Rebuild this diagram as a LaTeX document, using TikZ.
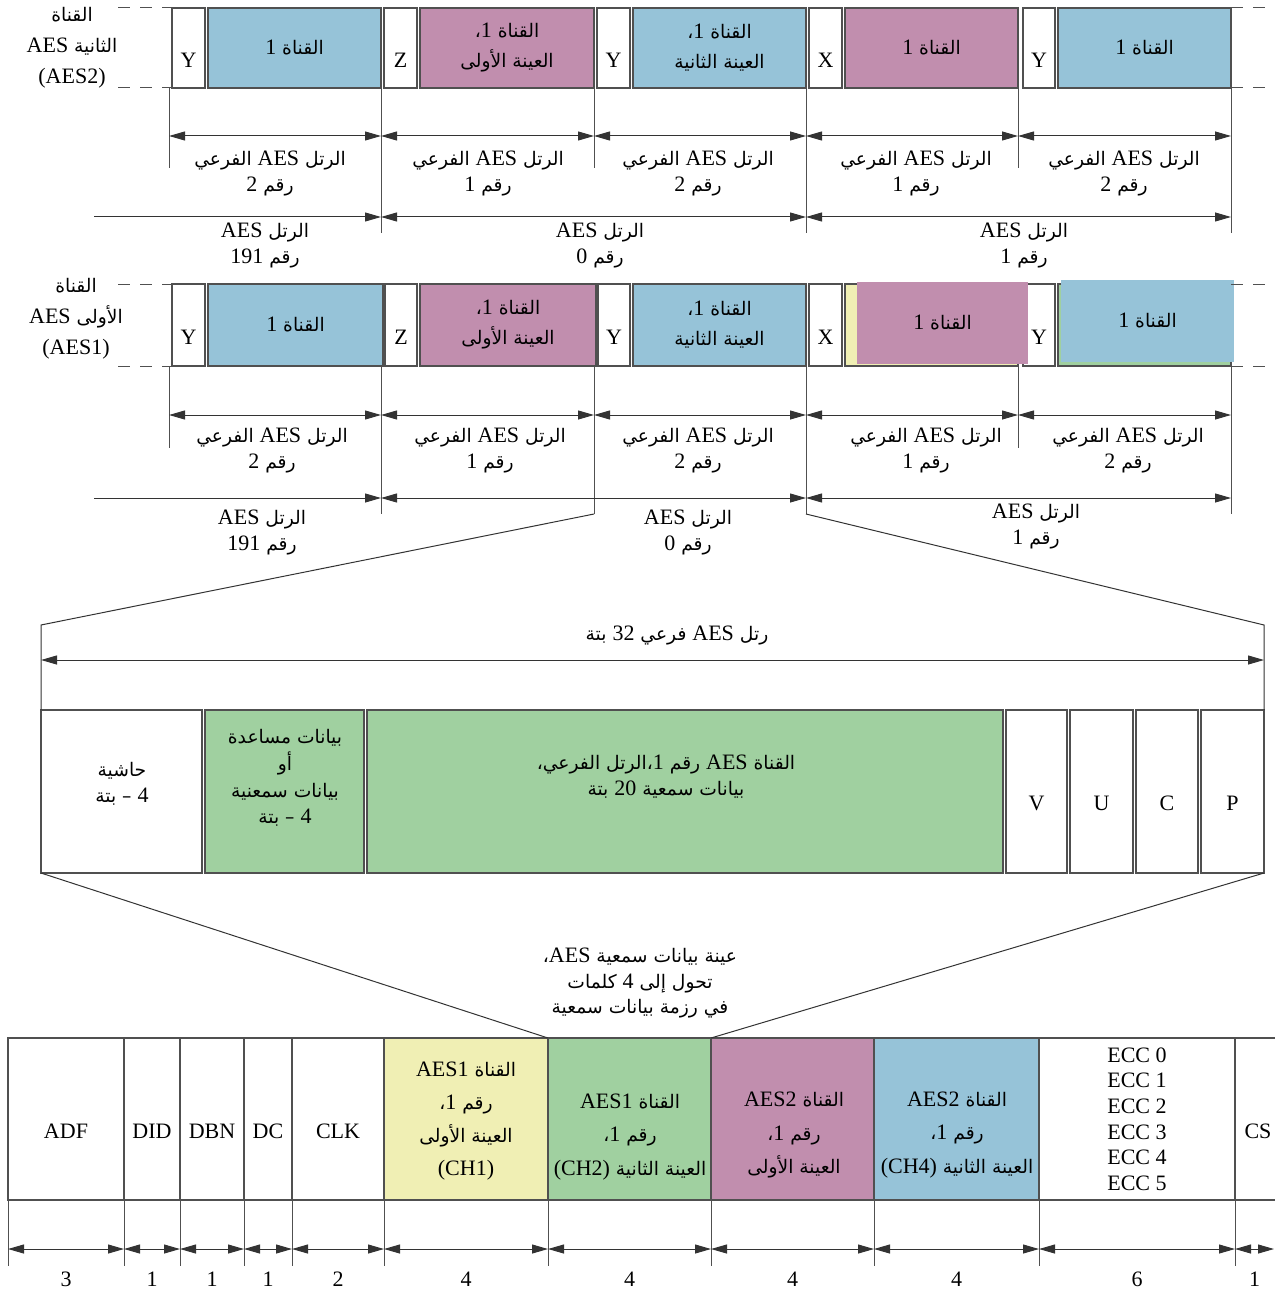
\documentclass[tikz,border=0pt]{standalone}
\usepackage{fontspec}
\setmainfont{Liberation Serif}
\newfontfamily\arabicfont[Script=Arabic,Scale=0.85]{DejaVu Sans}
\TeXXeTstate=1
\usetikzlibrary{arrows.meta,calc}
\definecolor{chBlue}{RGB}{150,195,216}
\definecolor{chPurple}{RGB}{193,142,174}
\definecolor{chGreen}{RGB}{160,208,160}
\definecolor{chYellow}{RGB}{240,239,180}
\definecolor{lineGrey}{RGB}{80,80,80}
\newcommand\ar[1]{{\arabicfont\beginR#1\endR}}
\newcommand\lat[1]{{\rmfamily#1}}
\newcommand\low[1]{\raisebox{-6pt}[\height][\depth]{#1}}
% cell: name, x1, y1, x2, y2, options, text (pixel units)
\newcommand\cell[7]{\node[cell,#6,minimum width={(#4-#2)*0.5pt},minimum height={(#5-#3)*0.5pt}] (#1) at ({(#2+#4)/2},{(#3+#5)/2}) {#7};}

\begin{document}
\begin{tikzpicture}[x=0.5pt,y=-0.5pt,font=\fontsize{11}{13}\selectfont,
  >={Triangle[length=8pt,width=4.5pt]},
  cell/.style={draw=lineGrey,line width=0.6pt,inner sep=0pt,outer sep=0pt,align=center},
  lbl/.style={inner sep=0pt,align=center},
  tick/.style={draw=lineGrey,line width=0.5pt},
  edge/.style={draw=black!80,line width=0.5pt},
  dim/.style={draw=black!80,line width=0.5pt,<->},
  dimR/.style={draw=black!80,line width=0.5pt,->},
  dashline/.style={draw=lineGrey,line width=0.5pt,dash pattern=on 6pt off 5pt}]
\useasboundingbox (0,0) rectangle (1274,1289);

% AES2 stream
\cell{a2y1}{172}{8}{205}{88}{}{\low{Y}}
\cell{a2c1}{208}{8}{381}{88}{fill=chBlue}{\ar{القناة \lat{1}}}
\cell{a2z}{384}{8}{417}{88}{}{\low{Z}}
\cell{a2c2}{420}{8}{594}{88}{fill=chPurple}{\ar{القناة \lat{1}،}\\[2pt]\ar{العينة الأولى}}
\cell{a2y2}{597}{8}{630}{88}{}{\low{Y}}
\cell{a2c3}{633}{8}{806}{88}{fill=chBlue}{\ar{القناة \lat{1}،}\\[2pt]\ar{العينة الثانية}}
\cell{a2x}{809}{8}{842}{88}{}{\low{X}}
\cell{a2c4}{845}{8}{1018}{88}{fill=chPurple}{\ar{القناة \lat{1}}}
\cell{a2y3}{1023}{8}{1055}{88}{}{\low{Y}}
\cell{a2c5}{1058}{8}{1231}{88}{fill=chBlue}{\ar{القناة \lat{1}}}
\node[lbl,font=\fontsize{11}{15.5}\selectfont] (a2name) at (72,48) {\ar{القناة}\\\ar{الثانية \lat{AES}}\\(AES2)};
\coordinate (dl1) at (118,8);
\coordinate (dl2) at (118,88);
\coordinate (dr1) at (1274,8);
\coordinate (dr2) at (1274,88);
\draw[dashline] (dl1) -- (a2y1.north west);
\draw[dashline] (dl2) -- (a2y1.south west);
\draw[dashline] (a2c5.north east) -- (dr1);
\draw[dashline] (a2c5.south east) -- (dr2);

\foreach \n/\x/\yb in {0/169/168,1/381/233,2/594/168,3/806/233,4/1018/168,5/1231/233} {
  \coordinate (ta\n) at (\x,88);
  \coordinate (tb\n) at (\x,\yb);
  \coordinate (sa\n) at (\x,136);
  \coordinate (fa\n) at (\x,217);
  \draw[tick] (ta\n) -- (tb\n);
}
\coordinate (fs) at (94,217);
\foreach \a/\b in {0/1,1/2,2/3,3/4,4/5} \draw[dim] (sa\a) -- (sa\b);
\draw[dimR] (fs) -- (fa1);
\draw[dim] (fa1) -- (fa3);
\draw[dim] (fa3) -- (fa5);
\foreach \n/\x/\k in {1/270/2,2/488/1,3/698/2,4/916/1,5/1124/2}
  \node[lbl] (sla\n) at (\x,173) {\ar{الرتل \lat{AES} الفرعي}\\\ar{رقم \lat{\k}}};
\foreach \n/\x/\k in {1/265/191,2/600/0,3/1024/1}
  \node[lbl] (fla\n) at (\x,245) {\ar{الرتل \lat{AES}}\\\ar{رقم \lat{\k}}};

% AES1 stream
\cell{a1y1}{172}{284}{205}{366}{}{\low{Y}}
\cell{a1c1}{208}{284}{383}{366}{fill=chBlue}{\ar{القناة \lat{1}}}
\cell{a1z}{385}{284}{417}{366}{}{\low{Z}}
\cell{a1c2}{420}{284}{596}{366}{fill=chPurple}{\ar{القناة \lat{1}،}\\[2pt]\ar{العينة الأولى}}
\cell{a1y2}{598}{284}{630}{366}{}{\low{Y}}
\cell{a1c3}{633}{284}{806}{366}{fill=chBlue}{\ar{القناة \lat{1}،}\\[2pt]\ar{العينة الثانية}}
\cell{a1x}{809}{284}{842}{366}{}{\low{X}}
\cell{a1c4}{845}{284}{1018}{366}{fill=chYellow}{}
\cell{a1y3}{1023}{284}{1055}{366}{}{\low{Y}}
\cell{a1c5}{1058}{284}{1231}{366}{fill=chGreen}{}
\cell{a1o4}{857}{282}{1028}{364}{fill=chPurple,draw=none}{\ar{القناة \lat{1}}}
\cell{a1o5}{1061}{280}{1234}{362}{fill=chBlue,draw=none}{\ar{القناة \lat{1}}}
\node[lbl,font=\fontsize{11}{15.5}\selectfont] (a1name) at (76,319) {\ar{القناة}\\\ar{الأولى \lat{AES}}\\(AES1)};
\coordinate (dl3) at (118,284);
\coordinate (dl4) at (118,366);
\coordinate (dr3) at (1274,284);
\coordinate (dr4) at (1274,366);
\draw[dashline] (dl3) -- (a1y1.north west);
\draw[dashline] (dl4) -- (a1y1.south west);
\draw[dashline] (a1c5.north east) -- (dr3);
\draw[dashline] (a1c5.south east) -- (dr4);

\foreach \n/\x/\yb in {0/169/448,1/381/514,2/594/514,3/806/514,4/1018/448,5/1231/514} {
  \coordinate (tc\n) at (\x,366);
  \coordinate (td\n) at (\x,\yb);
  \coordinate (sc\n) at (\x,415);
  \coordinate (fc\n) at (\x,498);
  \draw[tick] (tc\n) -- (td\n);
}
\coordinate (gs) at (94,498);
\foreach \a/\b in {0/1,1/2,2/3,3/4,4/5} \draw[dim] (sc\a) -- (sc\b);
\draw[dimR] (gs) -- (fc1);
\draw[dim] (fc1) -- (fc3);
\draw[dim] (fc3) -- (fc5);
\foreach \n/\x/\k in {1/272/2,2/490/1,3/698/2,4/926/1,5/1128/2}
  \node[lbl] (slc\n) at (\x,450) {\ar{الرتل \lat{AES} الفرعي}\\\ar{رقم \lat{\k}}};
\node[lbl] (flc1) at (262,532) {\ar{الرتل \lat{AES}}\\\ar{رقم \lat{191}}};
\node[lbl] (flc2) at (688,532) {\ar{الرتل \lat{AES}}\\\ar{رقم \lat{0}}};
\node[lbl] (flc3) at (1036,526) {\ar{الرتل \lat{AES}}\\\ar{رقم \lat{1}}};

% AES subframe, 32 bits
\cell{pad}{41}{710}{202}{873}{}{}
\cell{aux}{205}{710}{364}{873}{fill=chGreen}{}
\cell{aud}{367}{710}{1003}{873}{fill=chGreen}{}
\cell{bitV}{1006}{710}{1067}{873}{}{\low{V}}
\cell{bitU}{1070}{710}{1133}{873}{}{\low{U}}
\cell{bitC}{1136}{710}{1198}{873}{}{\low{C}}
\cell{bitP}{1201}{710}{1264}{873}{}{\low{P}}
\node[lbl] (padt) at (122,784) {\ar{حاشية}\\\ar{\lat{4} – بتة}};
\node[lbl,font=\fontsize{11}{13.3}\selectfont] (auxt) at (285,778) {\ar{بيانات مساعدة}\\\ar{أو}\\\ar{بيانات سمعنية}\\\ar{\lat{4} – بتة}};
\node[lbl] (audt) at (666,777) {\ar{القناة \lat{AES} رقم \lat{1}،الرتل الفرعي،}\\\ar{بيانات سمعية \lat{20} بتة}};
\node[lbl] (subt) at (677,635) {\ar{رتل \lat{AES} فرعي \lat{32} بتة}};
\coordinate (m0) at (41,625);
\coordinate (m1) at (1264,625);
\coordinate (w0) at (41,660);
\coordinate (w1) at (1264,660);
\draw[edge] (td2) -- (m0) -- (pad.north west);
\draw[edge] (td3) -- (m1) -- (bitP.north east);
\draw[dim] (w0) -- (w1);

% audio data packet
\cell{adf}{8}{1038}{124}{1200}{}{\low{ADF}}
\cell{did}{124}{1038}{180}{1200}{}{\low{DID}}
\cell{dbn}{180}{1038}{244}{1200}{}{\low{DBN}}
\cell{dc}{244}{1038}{292}{1200}{}{\low{DC}}
\cell{clk}{292}{1038}{384}{1200}{}{\low{CLK}}
\cell{ch1}{384}{1038}{548}{1200}{fill=chYellow}{}
\cell{ch2}{548}{1038}{711}{1200}{fill=chGreen}{}
\cell{ch3}{711}{1038}{874}{1200}{fill=chPurple}{}
\cell{ch4}{874}{1038}{1039}{1200}{fill=chBlue}{}
\cell{ecc}{1039}{1038}{1235}{1200}{font=\fontsize{11}{12.8}\selectfont}{ECC 0\\ECC 1\\ECC 2\\ECC 3\\ECC 4\\ECC 5}
\cell{cs}{1235}{1038}{1300}{1200}{}{}
\node[lbl] (cst) at (1258,1131) {CS};
\node[lbl,font=\fontsize{11}{16.5}\selectfont] (ch1t) at (466,1121) {\ar{القناة \lat{AES1}}\\\ar{رقم \lat{1}،}\\\ar{العينة الأولى}\\(CH1)};
\node[lbl,font=\fontsize{11}{16.8}\selectfont] (ch2t) at (630,1137) {\ar{القناة \lat{AES1}}\\\ar{رقم \lat{1}،}\\\ar{العينة الثانية \lat{\beginL(CH2)\endL}}};
\node[lbl,font=\fontsize{11}{16.8}\selectfont] (ch3t) at (794,1135) {\ar{القناة \lat{AES2}}\\\ar{رقم \lat{1}،}\\\ar{العينة الأولى}};
\node[lbl,font=\fontsize{11}{16.8}\selectfont] (ch4t) at (957,1135) {\ar{القناة \lat{AES2}}\\\ar{رقم \lat{1}،}\\\ar{العينة الثانية \lat{\beginL(CH4)\endL}}};
\node[lbl,font=\fontsize{11}{12.8}\selectfont] (mapt) at (640,983) {\ar{عينة بيانات سمعية \lat{AES}،}\\\ar{تحول إلى \lat{4} كلمات}\\\ar{في رزمة بيانات سمعية}};
\draw[edge] (pad.south west) -- (ch2.north west);
\draw[edge] (bitP.south east) -- (ch2.north east);

\foreach \i/\x in {0/8,1/124,2/180,3/244,4/292,5/384,6/548,7/711,8/874,9/1039,10/1235,11/1274} {
  \coordinate (kt\i) at (\x,1200);
  \coordinate (kb\i) at (\x,1266);
  \coordinate (k\i) at (\x,1249);
}
\foreach \i in {0,...,10} \draw[tick] (kt\i) -- (kb\i);
\foreach \i/\j/\w in {0/1/3,1/2/1,2/3/1,3/4/1,4/5/2,5/6/4,6/7/4,7/8/4,8/9/4,9/10/6,10/11/1} {
  \draw[dim] (k\i) -- (k\j);
  \node[lbl] (w\i) at ($(k\i)!0.5!(k\j)+(0,30)$) {\w};
}
\end{tikzpicture}
\end{document}
